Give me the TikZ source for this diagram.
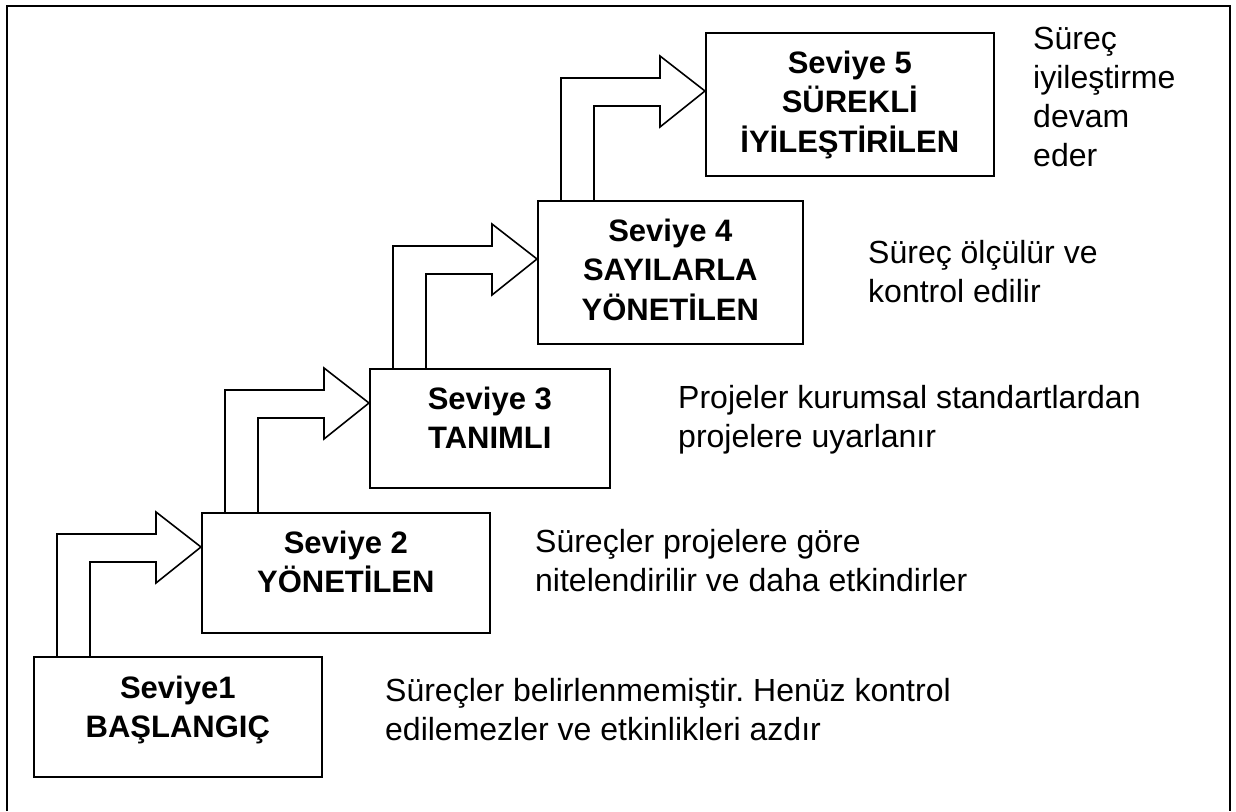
\documentclass[tikz,border=0pt]{standalone}
\usepackage{fontspec}
\setmainfont{Liberation Sans}
\usetikzlibrary{calc}
\frenchspacing

% stacked lines whose baseline is the first line
\newcommand\cstack[1]{\begin{tabular}[t]{@{}c@{}}#1\end{tabular}}
\newcommand\lstack[1]{\begin{tabular}[t]{@{}l@{}}#1\end{tabular}}

% bent block arrow rising from the top of box #1 into the left side of box #2;
% #3 = drop of the arrow tip below the top of box #2
\newcommand\risearrow[3]{%
  \draw[stepshape] let \p1=(#1.north west), \p2=(#2.north west) in
    (\x1+24pt,\y1) -- (\x1+24pt,\y2-#3pt+13pt) -- (\x2-45pt,\y2-#3pt+13pt)
    -- (\x2-45pt,\y2-#3pt+35pt) -- (\x2,\y2-#3pt) -- (\x2-45pt,\y2-#3pt-36pt)
    -- (\x2-45pt,\y2-#3pt-15pt) -- (\x1+57pt,\y2-#3pt-15pt) -- (\x1+57pt,\y1);}

\begin{document}
\begin{tikzpicture}[x=1pt,y=-1pt,
  frameline/.style={line width=1.6pt},
  levelbox/.style={draw, line width=1.6pt, inner sep=0pt, anchor=north west},
  leveltext/.style={anchor=base, inner sep=0pt,
    font=\fontsize{31}{39.5}\selectfont\bfseries},
  note/.style={anchor=base west, inner sep=0pt,
    font=\fontsize{32}{39}\selectfont},
  stepshape/.style={draw, line width=1.6pt, line join=miter}]

\useasboundingbox (0,0) rectangle (1236,811);

% open frame around the staircase
\draw[frameline] (7,811) -- (7,6) -- (1230,6) -- (1230,811);

% level boxes
\node[levelbox, minimum width=288pt, minimum height=120pt] (b1) at (33,656) {};
\node[levelbox, minimum width=288pt, minimum height=120pt] (b2) at (201,512) {};
\node[levelbox, minimum width=240pt, minimum height=119pt] (b3) at (369,368) {};
\node[levelbox, minimum width=265pt, minimum height=143pt] (b4) at (537,200) {};
\node[levelbox, minimum width=288pt, minimum height=143pt] (b5) at (705,32) {};

% level titles
\node[leveltext] (l1) at ($(b1.north)+(0,42)$) {\cstack{Seviye1\\BAŞLANGIÇ}};
\node[leveltext] (l2) at ($(b2.north)+(0,41)$) {\cstack{Seviye 2\\YÖNETİLEN}};
\node[leveltext] (l3) at ($(b3.north)+(0,41)$) {\cstack{Seviye 3\\TANIMLI}};
\node[leveltext] (l4) at ($(b4.north)+(0,41)$) {\cstack{Seviye 4\\SAYILARLA\\YÖNETİLEN}};
\node[leveltext] (l5) at ($(b5.north)+(0,41)$) {\cstack{Seviye 5\\SÜREKLİ\\İYİLEŞTİRİLEN}};

% steps between levels
\risearrow{b1}{b2}{35}
\risearrow{b2}{b3}{35}
\risearrow{b3}{b4}{59}
\risearrow{b4}{b5}{59}

% descriptions
\node[note] (n1) at (385,701) {\lstack{Süreçler belirlenmemiştir. Henüz kontrol\\edilemezler ve etkinlikleri azdır}};
\node[note] (n2) at (535,552) {\lstack{Süreçler projelere göre\\nitelendirilir ve daha etkindirler}};
\node[note] (n3) at (678,408) {\lstack{Projeler kurumsal standartlardan\\projelere uyarlanır}};
\node[note] (n4) at (868,263) {\lstack{Süreç ölçülür ve\\kontrol edilir}};
\node[note] (n5) at (1033,49) {\lstack{Süreç\\iyileştirme\\devam\\eder}};
\end{tikzpicture}
\end{document}
